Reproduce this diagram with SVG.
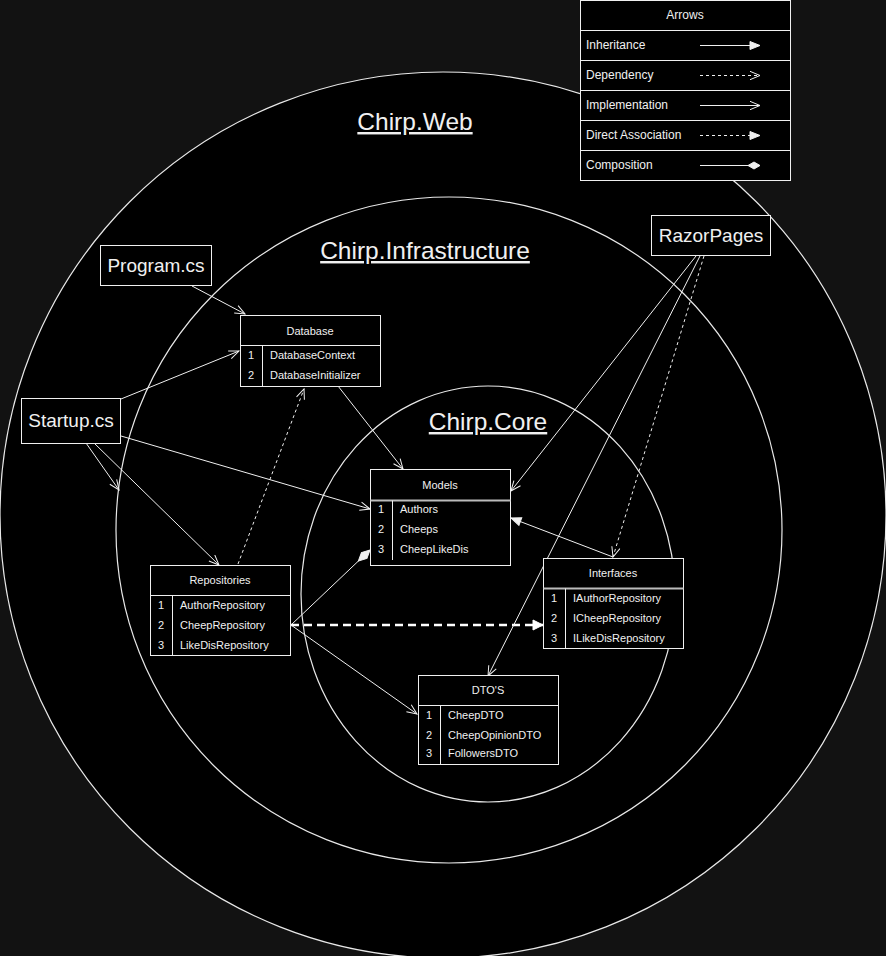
<svg xmlns="http://www.w3.org/2000/svg" width="886" height="956" viewBox="0 0 886 956">
<style>
text{font-family:"Liberation Sans",Arial,sans-serif;fill:#f0f0f0}
.t{font-size:11px}
.tc{font-size:11px;text-anchor:middle}
.lg{font-size:12px}
.big{font-size:24.5px;text-anchor:middle;text-decoration:underline}
.nm{font-size:19px;text-anchor:middle}
.box{fill:#000;stroke:#f0f0f0;stroke-width:1}
.ring{fill:#000;stroke:#e8e8e8;stroke-width:1.2}
.ln{stroke:#f0f0f0;stroke-width:1;fill:none}
.c{stroke:#f0f0f0;stroke-width:1;fill:none}
.d{stroke-dasharray:3 3}
</style>
<defs>
<marker id="open" markerUnits="userSpaceOnUse" viewBox="0 0 12 10" refX="11" refY="5" markerWidth="12" markerHeight="10" orient="auto">
<path d="M1,0.8 L11,5 L1,9.2" fill="none" stroke="#f0f0f0" stroke-width="1"/>
</marker>
<marker id="block" markerUnits="userSpaceOnUse" viewBox="0 0 12 10" refX="11" refY="5" markerWidth="12" markerHeight="10" orient="auto">
<path d="M1,1 L11,5 L1,9 z" fill="#f0f0f0" stroke="#f0f0f0" stroke-width="1"/>
</marker>
<marker id="blockbig" markerUnits="userSpaceOnUse" viewBox="0 0 12 12" refX="11" refY="6" markerWidth="12" markerHeight="12" orient="auto">
<path d="M1,1 L11,6 L1,11 z" fill="#ffffff" stroke="#ffffff" stroke-width="1"/>
</marker>
<marker id="diamond" markerUnits="userSpaceOnUse" viewBox="0 0 18 10" refX="17" refY="5" markerWidth="18" markerHeight="10" orient="auto">
<path d="M1,5 L9,1 L17,5 L9,9 z" fill="#f0f0f0" stroke="#f0f0f0" stroke-width="1"/>
</marker>
<marker id="diamondsm" markerUnits="userSpaceOnUse" viewBox="0 0 14 10" refX="13" refY="5" markerWidth="14" markerHeight="10" orient="auto">
<path d="M1,5 L7,1.5 L13,5 L7,8.5 z" fill="#f0f0f0" stroke="#f0f0f0" stroke-width="1"/>
</marker>
</defs>
<rect x="0" y="0" width="886" height="956" fill="#121212"/>

<g id="chirp-web">
<circle class="ring" cx="443" cy="515" r="443"/>
<text class="big" x="415" y="130">Chirp.Web</text>
</g>
<g id="chirp-infrastructure">
<circle class="ring" cx="449" cy="530" r="333"/>
<text class="big" x="425" y="259">Chirp.Infrastructure</text>
</g>
<g id="chirp-core">
<ellipse class="ring" cx="488" cy="594" rx="187" ry="208"/>
<text class="big" x="488" y="430">Chirp.Core</text>
</g>

<g id="legend">
<rect class="box" x="580.5" y="0.5" width="210" height="180"/>
<line class="ln" x1="580.5" y1="30.5" x2="790.5" y2="30.5"/>
<line class="ln" x1="580.5" y1="60.5" x2="790.5" y2="60.5"/>
<line class="ln" x1="580.5" y1="90.5" x2="790.5" y2="90.5"/>
<line class="ln" x1="580.5" y1="120.5" x2="790.5" y2="120.5"/>
<line class="ln" x1="580.5" y1="150.5" x2="790.5" y2="150.5"/>
<text class="lg" x="685" y="19" text-anchor="middle">Arrows</text>
<text class="lg" x="586" y="49">Inheritance</text>
<text class="lg" x="586" y="79">Dependency</text>
<text class="lg" x="586" y="109">Implementation</text>
<text class="lg" x="586" y="139">Direct Association</text>
<text class="lg" x="586" y="169">Composition</text>
<path class="c" d="M700,45.5 L760,45.5" marker-end="url(#block)"/>
<path class="c d" d="M700,75.5 L760,75.5" marker-end="url(#open)"/>
<path class="c" d="M700,105.5 L760,105.5" marker-end="url(#open)"/>
<path class="c d" d="M700,135.5 L760,135.5" marker-end="url(#block)"/>
<path class="c" d="M700,165.5 L760,165.5" marker-end="url(#diamondsm)"/>
</g>

<g id="connectors">
<path class="c" d="M192,286 L245,314" marker-end="url(#open)"/>
<path class="c" d="M121,399 L239,351" marker-end="url(#open)"/>
<path class="c" d="M121,436 L370,509" marker-end="url(#open)"/>
<path class="c" d="M86,443 L119,490" marker-end="url(#open)"/>
<path class="c" d="M94,443 L219,565" marker-end="url(#open)"/>
<path class="c d" d="M238,564 L304,389" marker-end="url(#open)"/>
<path class="c" d="M338,386 L403,469" marker-end="url(#open)"/>
<path class="c" d="M291,625 L370,550" marker-end="url(#diamond)"/>
<path d="M291,625 L543,625" fill="none" stroke="#ffffff" stroke-width="2.5" stroke-dasharray="8 5" marker-end="url(#blockbig)"/>
<path class="c" d="M291,625 L417,714" marker-end="url(#open)"/>
<path class="c" d="M696,256 L511,491" marker-end="url(#open)"/>
<path class="c" d="M700,256 L488,676" marker-end="url(#open)"/>
<path class="c d" d="M704,256 L613,557" marker-end="url(#open)"/>
<path class="c" d="M613,557 L511,518" marker-end="url(#block)"/>
</g>

<g id="program-cs">
<rect class="box" x="100.5" y="245.5" width="111" height="40"/>
<text class="nm" x="156" y="272">Program.cs</text>
</g>
<g id="startup-cs">
<rect class="box" x="21.5" y="398.5" width="99" height="45"/>
<text class="nm" x="71" y="427">Startup.cs</text>
</g>
<g id="razorpages">
<rect class="box" x="651.5" y="215.5" width="119" height="40"/>
<text class="nm" x="711" y="242">RazorPages</text>
</g>

<g id="database">
<rect class="box" x="240.5" y="315.5" width="140" height="71"/>
<line class="ln" x1="240.5" y1="345.5" x2="380.5" y2="345.5"/>
<line class="ln" x1="262.5" y1="345.5" x2="262.5" y2="386.5"/>
<text class="tc" x="310" y="335">Database</text>
<text class="tc" x="251" y="359">1</text>
<text class="t" x="270" y="359">DatabaseContext</text>
<text class="tc" x="251" y="379">2</text>
<text class="t" x="270" y="379">DatabaseInitializer</text>
</g>

<g id="models">
<rect class="box" x="370.5" y="469.5" width="140" height="96"/>
<line x1="370.5" y1="500.5" x2="510.5" y2="500.5" stroke="#bbb" stroke-width="2"/>
<line class="ln" x1="392.5" y1="500.5" x2="392.5" y2="560"/>
<text class="tc" x="440" y="489">Models</text>
<text class="tc" x="381" y="513">1</text>
<text class="t" x="400" y="513">Authors</text>
<text class="tc" x="381" y="533">2</text>
<text class="t" x="400" y="533">Cheeps</text>
<text class="tc" x="381" y="553">3</text>
<text class="t" x="400" y="553">CheepLikeDis</text>
</g>

<g id="repositories">
<rect class="box" x="150.5" y="565.5" width="140" height="90"/>
<line class="ln" x1="150.5" y1="595.5" x2="290.5" y2="595.5"/>
<line class="ln" x1="172.5" y1="595.5" x2="172.5" y2="655.5"/>
<text class="tc" x="220" y="584">Repositories</text>
<text class="tc" x="161" y="609">1</text>
<text class="t" x="180" y="609">AuthorRepository</text>
<text class="tc" x="161" y="629">2</text>
<text class="t" x="180" y="629">CheepRepository</text>
<text class="tc" x="161" y="649">3</text>
<text class="t" x="180" y="649">LikeDisRepository</text>
</g>

<g id="interfaces">
<rect class="box" x="543.5" y="558.5" width="140" height="90"/>
<line x1="543.5" y1="588.5" x2="683.5" y2="588.5" stroke="#bbb" stroke-width="2"/>
<line class="ln" x1="565.5" y1="588.5" x2="565.5" y2="648.5"/>
<text class="tc" x="613" y="577">Interfaces</text>
<text class="tc" x="554" y="602">1</text>
<text class="t" x="573" y="602">IAuthorRepository</text>
<text class="tc" x="554" y="622">2</text>
<text class="t" x="573" y="622">ICheepRepository</text>
<text class="tc" x="554" y="642">3</text>
<text class="t" x="573" y="642">ILikeDisRepository</text>
</g>

<g id="dtos">
<rect class="box" x="418.5" y="675.5" width="140" height="89"/>
<line class="ln" x1="418.5" y1="705.5" x2="558.5" y2="705.5"/>
<line class="ln" x1="440.5" y1="705.5" x2="440.5" y2="764.5"/>
<text class="tc" x="488" y="694">DTO'S</text>
<text class="tc" x="429" y="719">1</text>
<text class="t" x="448" y="719">CheepDTO</text>
<text class="tc" x="429" y="739">2</text>
<text class="t" x="448" y="739">CheepOpinionDTO</text>
<text class="tc" x="429" y="757">3</text>
<text class="t" x="448" y="757">FollowersDTO</text>
</g>
</svg>
